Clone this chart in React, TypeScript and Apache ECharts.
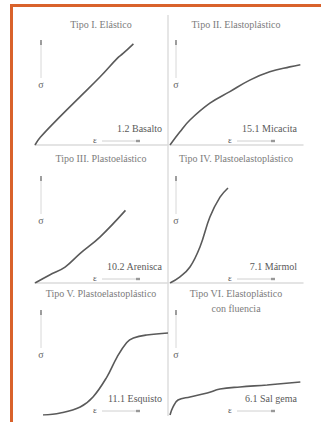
import React, { useEffect, useRef } from "react";
import * as echarts from "echarts";

// Panel titles
const titles: string[][] = [
  ["Tipo I. Elástico"],
  ["Tipo II. Elastoplástico"],
  ["Tipo III. Plastoelástico"],
  ["Tipo IV. Plastoelastoplástico"],
  ["Tipo V. Plastoelastoplástico"],
  ["Tipo VI. Elastoplástico", "con fluencia"],
];
// Rock sample labels
const rocks = ["1.2 Basalto", "15.1 Micacita", "10.2 Arenisca", "7.1 Mármol", "11.1 Esquisto", "6.1 Sal gema"];

// strain (x, 0-100) / stress (y, 0-100) curves
const curveI = [[0, 0], [4, 7], [19, 26], [34, 44], [49, 62], [62, 79], [66, 83], [74, 92]];
const curveII = [[0, 0], [7.5, 12], [15, 22.7], [30, 38], [45, 48.5], [60, 59], [75, 66.5], [90, 71], [98, 73]];
const curveIII = [[0, 0], [11, 7.3], [22.6, 14.5], [34, 27], [49, 42], [68, 66]];
const curveIV = [[0, 0], [7.5, 5.5], [15, 14.5], [22.6, 33], [30, 60], [37.6, 78], [43.6, 86.4]];
const curveV = [[6, 0], [19, 1.8], [34, 7.3], [43.6, 16.4], [54, 34.5], [61.7, 52.7], [69, 66], [74, 70], [84, 72.7], [100, 74.5]];
const curveVI = [[0, 0], [2.3, 7.3], [6, 13.6], [15, 16.4], [28, 20], [37.6, 23.6], [52.6, 25.5], [73, 27.3], [98, 30]];

const curves = [curveI, curveII, curveIII, curveIV, curveV, curveVI];

const FONT = "Liberation Serif";

export default function App() {
  const ref = useRef<HTMLDivElement>(null);
  useEffect(() => {
    if (!ref.current) return;
    const chart = echarts.init(ref.current, null, { renderer: "svg" });
    const colLeft = [35, 170];
    const rowTop = [35, 173, 305];
    const W = 133;
    const H = 110;
    const titleY = [24, 158, 293];
    const arrowTop = [40, 176, 310];
    const grids: any[] = [];
    const xAxes: any[] = [];
    const yAxes: any[] = [];
    const series: any[] = [];
    const graphics: any[] = [];

    // orange frame
    graphics.push({ type: "rect", shape: { x: 10, y: 4, width: 311, height: 3 }, style: { fill: "#d9622b" } });
    graphics.push({ type: "rect", shape: { x: 10, y: 4, width: 3, height: 418 }, style: { fill: "#d9622b" } });
    // column divider
    graphics.push({ type: "line", shape: { x1: 168, y1: 15, x2: 168, y2: 416 }, style: { stroke: "#dedede", lineWidth: 1.5 } });

    curves.forEach((c, i) => {
      const col = i % 2;
      const row = Math.floor(i / 2);
      const left = colLeft[col];
      const top = rowTop[row];
      const bottom = top + H;
      grids.push({ left, top, width: W, height: H });
      xAxes.push({
        gridIndex: i, type: "value", min: 0, max: 100,
        axisLine: { show: row < 2, lineStyle: { color: "#dcdcdc", width: 1.5 } },
        axisTick: { show: false }, axisLabel: { show: false }, splitLine: { show: false },
      });
      yAxes.push({
        gridIndex: i, type: "value", min: 0, max: 100,
        axisLine: { show: false }, axisTick: { show: false }, axisLabel: { show: false }, splitLine: { show: false },
      });
      series.push({
        type: "line", xAxisIndex: i, yAxisIndex: i, data: c, smooth: 0.4, showSymbol: false,
        lineStyle: { color: "#5a5a5a", width: 1.6 },
      });
      // titles
      titles[i].forEach((t, k) => {
        graphics.push({
          type: "text", x: left + 66, y: titleY[row] + k * 15,
          style: { text: t, fill: "#7c7c7c", font: `10px '${FONT}'`, align: "center", verticalAlign: "middle" },
        });
      });
      // sigma arrow
      const ax = left + 6;
      const at = arrowTop[row];
      graphics.push({ type: "line", shape: { x1: ax, y1: at + 2, x2: ax, y2: at + 38 }, style: { stroke: "#d8d8d8", lineWidth: 1 } });
      graphics.push({ type: "rect", shape: { x: ax - 0.8, y: at, width: 1.6, height: 5 }, style: { fill: "#888" } });
      graphics.push({
        type: "text", x: ax, y: at + 44,
        style: { text: "σ", fill: "#666", font: `10px '${FONT}'`, align: "center", verticalAlign: "middle" },
      });
      // epsilon arrow
      const ey = bottom - 5;
      graphics.push({
        type: "text", x: left + 60, y: ey,
        style: { text: "ε", fill: "#555", font: `9px '${FONT}'`, align: "center", verticalAlign: "middle" },
      });
      graphics.push({ type: "line", shape: { x1: left + 67, y1: ey + 1, x2: left + 105, y2: ey + 1 }, style: { stroke: "#d0d0d0", lineWidth: 1 } });
      graphics.push({ type: "rect", shape: { x: left + 101, y: ey - 0.2, width: 4, height: 2.4 }, style: { fill: "#999" } });
      // rock label
      graphics.push({
        type: "text", x: left + 127, y: bottom - 17,
        style: { text: rocks[i], fill: "#5a5a5a", font: `10px '${FONT}'`, align: "right", verticalAlign: "middle" },
      });
    });

    chart.setOption({
      animation: false,
      backgroundColor: "#ffffff",
      grid: grids,
      xAxis: xAxes,
      yAxis: yAxes,
      series,
      graphic: graphics,
    });
    return () => chart.dispose();
  }, []);
  return <div ref={ref} style={{ position: "absolute", left: 0, top: 0, width: 321, height: 422 }} />;
}
